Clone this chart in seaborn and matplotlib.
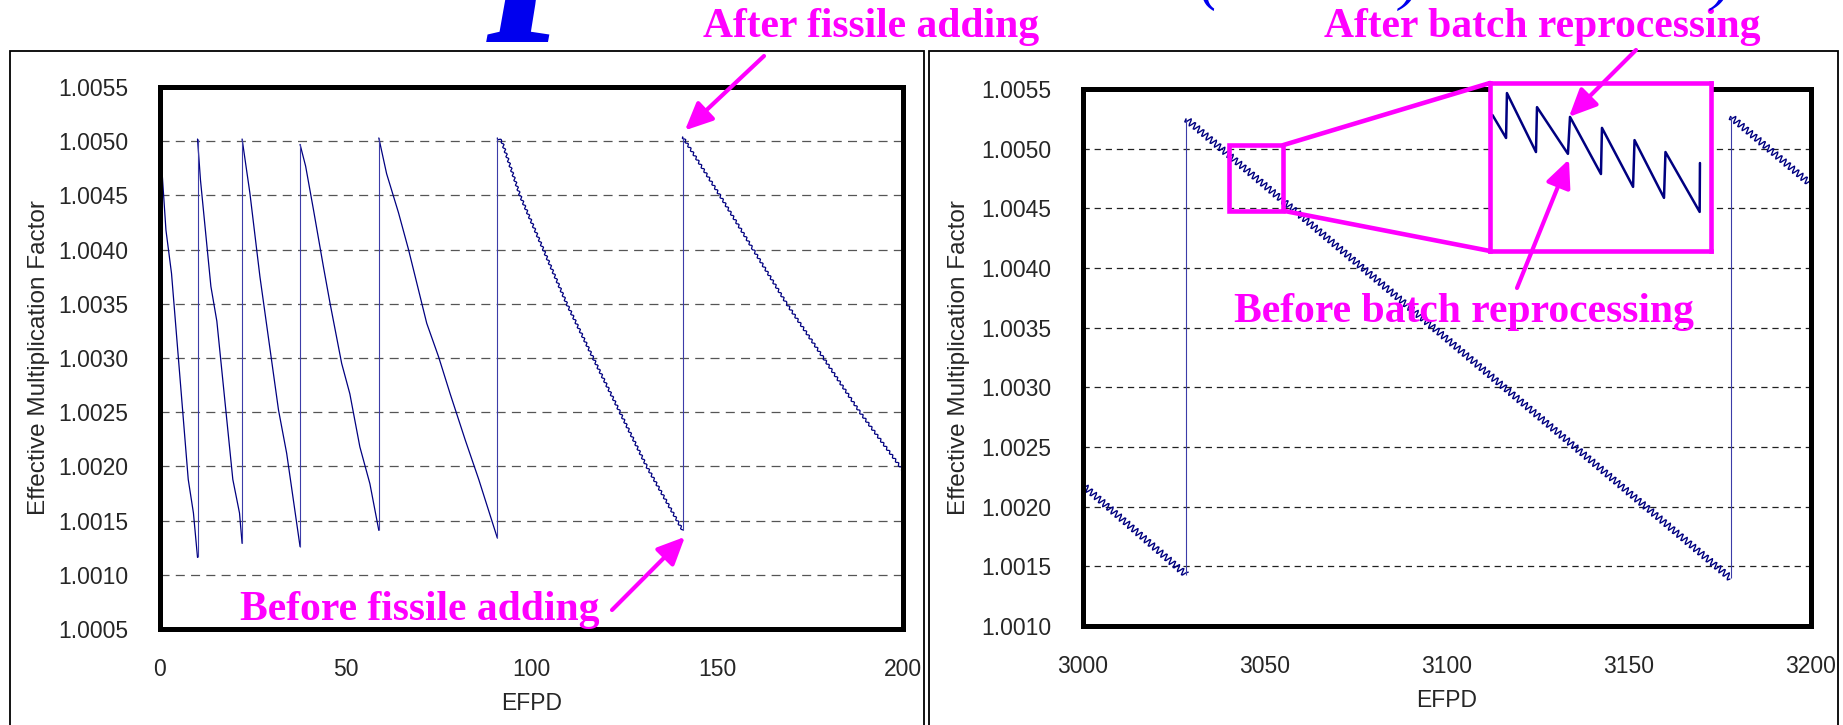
import numpy as np
import pandas as pd
import seaborn as sns
import matplotlib.pyplot as plt
from matplotlib.patches import Rectangle, ConnectionPatch
from matplotlib.ticker import FormatStrFormatter

# --- values ---
# left panel: one cycle = decay between two fissile additions
left_cycle = [1] * 6 + [2] * 7 + [3] * 6 + [4] * 10 + [5] * 10 + [6] * 9 + [7] * 8
left_efpd = [0.0, 1.6, 3.1, 7.6, 9.0, 10.1,
             10.1, 10.9, 13.7, 15.3, 19.6, 21.4, 22.1,
             22.1, 24.2, 26.9, 31.9, 34.1, 37.7,
             37.7, 39.2, 41.3, 44.0, 45.8, 48.9, 51.1, 53.8, 56.5, 58.9,
             58.9, 61.0, 64.2, 66.9, 71.8, 75.0, 78.1, 82.2, 85.8, 90.8,
             90.8, 92.0, 96.9, 103.2, 109.5, 116.6, 123.8, 131.0, 140.7,
             140.7, 150.7, 159.7, 168.7, 178.6, 188.4, 199.2, 200.0]
left_keff = [1.00500, 1.00418, 1.00378, 1.00188, 1.00157, 1.00116,
             1.00502, 1.00464, 1.00366, 1.00334, 1.00188, 1.00157, 1.00129,
             1.00502, 1.00452, 1.00375, 1.00252, 1.00212, 1.00126,
             1.00497, 1.00477, 1.00437, 1.00384, 1.00350, 1.00295, 1.00267, 1.00218, 1.00184, 1.00141,
             1.00503, 1.00470, 1.00434, 1.00400, 1.00332, 1.00301, 1.00267, 1.00224, 1.00188, 1.00134,
             1.00503, 1.00500, 1.00450, 1.00400, 1.00350, 1.00300, 1.00250, 1.00200, 1.00141,
             1.00504, 1.00450, 1.00400, 1.00350, 1.00300, 1.00250, 1.00200, 1.00196]
left_xticks = [0, 50, 100, 150, 200]
left_yticks = [1.0005, 1.0010, 1.0015, 1.0020, 1.0025, 1.0030, 1.0035, 1.0040, 1.0045, 1.0050, 1.0055]

# right panel
right_cycle = [1, 1, 2, 2, 3, 3]
right_efpd = [3000.0, 3028.3, 3028.3, 3177.9, 3177.9, 3200.0]
right_keff = [1.00218, 1.00143, 1.00525, 1.00140, 1.00527, 1.00470]
right_xticks = [3000, 3050, 3100, 3150, 3200]
right_yticks = [1.0010, 1.0015, 1.0020, 1.0025, 1.0030, 1.0035, 1.0040, 1.0045, 1.0050, 1.0055]

# magnified window (batch reprocessing teeth)
zoom_efpd = [3040.17, 3041.09, 3041.15, 3043.12, 3043.19, 3045.29, 3045.43, 3047.53,
             3047.60, 3049.71, 3049.81, 3051.81, 3051.91, 3054.23, 3054.25]
zoom_keff = [1.004925, 1.004850, 1.004997, 1.004804, 1.004951, 1.004798, 1.004919, 1.004732,
             1.004883, 1.004690, 1.004843, 1.004654, 1.004804, 1.004608, 1.004768]
zoom_xlim = [3040.0, 3055.0]
zoom_ylim = [1.00448, 1.00503]

navy = '#000080'
jump_blue = '#3c3ca8'
magenta = '#ff00ff'

sns.set_style('white')
plt.rcParams['font.family'] = ['Liberation Sans', 'DejaVu Sans']
plt.rcParams['lines.scale_dashes'] = False

W, H = 1843, 725
fig = plt.figure(figsize=(W / 100, H / 100), dpi=100)

# slide frames around each panel
for x0, x1 in [(10, 924), (929, 1838)]:
    fig.add_artist(Rectangle((x0 / W, -0.02), (x1 - x0) / W, (H - 51) / H + 0.02,
                             transform=fig.transFigure, fill=False, ec='black', lw=1.3, zorder=0))

ax1 = fig.add_axes([160 / W, (H - 629) / H, 743 / W, 542 / H])
ax2 = fig.add_axes([1083 / W, (H - 626) / H, 728 / W, 537 / H])


def draw_panel(ax, efpd, keff, cycle, xticks, yticks, grid_color, dash):
    df = pd.DataFrame({'EFPD': efpd, 'keff': keff, 'cycle': cycle})
    sns.lineplot(data=df, x='EFPD', y='keff', units='cycle', estimator=None, sort=False,
                 color=navy, lw=0.9, ax=ax, legend=False)
    first = df.groupby('cycle').first()
    last = df.groupby('cycle').last()
    cyc = list(first.index)
    for prev, cur in zip(cyc[:-1], cyc[1:]):
        ax.vlines(first.loc[cur, 'EFPD'], last.loc[prev, 'keff'], first.loc[cur, 'keff'],
                  color=jump_blue, lw=0.8)
    ax.set_xlim(xticks[0], xticks[-1])
    ax.set_ylim(yticks[0], yticks[-1])
    ax.set_xticks(xticks)
    ax.set_yticks(yticks)
    ax.yaxis.set_major_formatter(FormatStrFormatter('%.4f'))
    ax.grid(True, axis='y', color=grid_color, lw=0.9, linestyle=(0, dash))
    ax.set_axisbelow(True)
    ax.tick_params(axis='x', direction='in', length=6, width=1.2, pad=21, labelsize=16.5)
    ax.tick_params(axis='y', length=0, pad=23, labelsize=16.5)
    for s in ax.spines.values():
        s.set_linewidth(3.6)
        s.set_color('black')
    ax.set_xlabel('EFPD', fontsize=16.5, labelpad=8)
    ax.set_ylabel('Effective Multiplication Factor', fontsize=17.5, labelpad=6)


draw_panel(ax1, left_efpd, left_keff, left_cycle, left_xticks, left_yticks, '#555555', (6.5, 4.5))
draw_panel(ax2, right_efpd, right_keff, right_cycle, right_xticks, right_yticks, '#222222', (4.5, 3.5))
ax2.yaxis.labelpad = 8

# fine batch-reprocessing ripple as a line texture
for line in ax1.lines:
    if min(line.get_xdata()) >= 90:
        line.set_sketch_params(1.1, 5, 1)
for line in ax2.lines:
    line.set_sketch_params(3.4, 5.5, 1)
    line.set_linewidth(1.0)

# magnified window
ax2.add_patch(Rectangle((zoom_xlim[0], zoom_ylim[0]), zoom_xlim[1] - zoom_xlim[0],
                        zoom_ylim[1] - zoom_ylim[0], fill=False, ec=magenta, lw=3.3, zorder=4))
axins = fig.add_axes([1490 / W, (H - 251) / H, 221 / W, 168 / H], zorder=5)
sns.lineplot(x=zoom_efpd, y=zoom_keff, sort=False, estimator=None, color=navy, lw=1.8, ax=axins)
axins.set_xlim(zoom_xlim)
axins.set_ylim(zoom_ylim)
axins.set_xticks([])
axins.set_yticks([])
axins.set_facecolor('white')
for s in axins.spines.values():
    s.set_linewidth(3.3)
    s.set_color(magenta)
for yv in zoom_ylim:
    fig.add_artist(ConnectionPatch(xyA=(zoom_xlim[1], yv), coordsA=ax2.transData,
                                   xyB=(zoom_xlim[0], yv), coordsB=axins.transData,
                                   color=magenta, lw=3.3, zorder=4))

# arrows and magenta captions
aprops = dict(arrowstyle='-|>,head_length=1.2,head_width=0.55', color=magenta, lw=3,
              shrinkA=0, shrinkB=0, mutation_scale=14)
ax1.annotate('', xy=(141.3, 1.00510), xytext=(764, H - 56), textcoords='figure pixels',
             arrowprops=aprops, annotation_clip=False)
ax1.annotate('', xy=(141.3, 1.00135), xytext=(612, H - 610), textcoords='figure pixels',
             arrowprops=aprops, annotation_clip=False)
axins.annotate('', xy=(3045.36, 1.004919), xytext=(1636, H - 50), textcoords='figure pixels',
               arrowprops=aprops, annotation_clip=False)
axins.annotate('', xy=(3045.36, 1.00478), xytext=(1517, H - 288), textcoords='figure pixels',
               arrowprops=aprops, annotation_clip=False)

cap = dict(color=magenta, fontsize=30, fontweight='bold', family=['Liberation Serif', 'DejaVu Serif'],
           ha='center', va='baseline')
fig.text(871 / W, (H - 37) / H, 'After fissile adding', **cap)
fig.text(1542 / W, (H - 37) / H, 'After batch reprocessing', **cap)
fig.text(420 / W, (H - 620) / H, 'Before fissile adding', **cap)
fig.text(1464 / W, (H - 322) / H, 'Before batch reprocessing', **cap)

# fragments of the slide title cut off at the top
ttl = dict(color='#0000ee', family=['Liberation Serif', 'DejaVu Serif'], style='italic', va='baseline')
fig.text(503 / W, (H + 8) / H, 'p', fontsize=170, fontweight='bold', **ttl)
fig.text(1200 / W, (H + 2) / H, '(', fontsize=44, **ttl)
fig.text(1400 / W, (H + 2) / H, ')', fontsize=44, **ttl)
fig.text(1712 / W, (H + 2) / H, ')', fontsize=44, **ttl)

fig.savefig('out.png', dpi=100)
